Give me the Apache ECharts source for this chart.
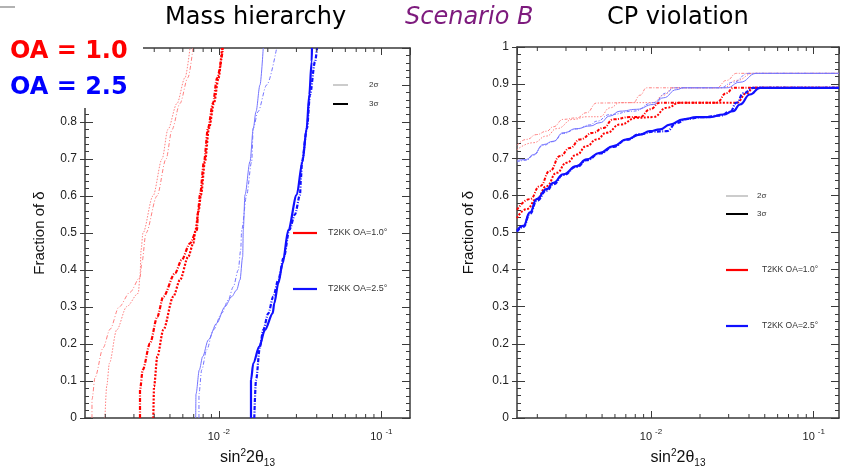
<!DOCTYPE html>
<html><head><meta charset="utf-8">
<script src="https://cdn.jsdelivr.net/npm/echarts@6/dist/echarts.min.js"></script>
<style>html,body{margin:0;padding:0;background:#fff}#c{width:841px;height:467px}</style>
</head><body><div id="c"></div>
<script>
// ---------- axis ranges / ticks ----------
const xMin = 0.0015, xMaxMH = 0.15, xMaxCP = 0.143;
const xMinorTicks = [0.002,0.003,0.004,0.005,0.006,0.007,0.008,0.009,0.02,0.03,0.04,0.05,0.06,0.07,0.08,0.09];

// ---------- Mass hierarchy panel: [sin^2 2theta13, fraction of delta] ----------
const mhRed2A = [[1.656e-3,0],[1.656e-3,0.05],[1.73e-3,0.11],[1.94e-3,0.19],[2.14e-3,0.24],[2.43e-3,0.30],[2.84e-3,0.34],[3.27e-3,0.38],[3.36e-3,0.42],[3.56e-3,0.5],[4.16e-3,0.6],[4.73e-3,0.7],[5.15e-3,0.78],[5.76e-3,0.85],[6.45e-3,0.92],[6.93e-3,1.0]];
const mhRed2B = [[1.99e-3,0],[2.04e-3,0.086],[2.12e-3,0.148],[2.35e-3,0.238],[2.71e-3,0.301],[3.19e-3,0.337],[3.27e-3,0.382],[3.32e-3,0.454],[3.41e-3,0.5],[3.93e-3,0.6],[4.47e-3,0.7],[4.86e-3,0.78],[5.52e-3,0.85],[6.19e-3,0.92],[6.64e-3,1.0]];
const mhRed3C = [[3.27e-3,0],[3.27e-3,0.076],[3.40e-3,0.13],[3.77e-3,0.202],[4.18e-3,0.274],[4.55e-3,0.328],[5.37e-3,0.391],[5.90e-3,0.427],[6.64e-3,0.472],[7.33e-3,0.508],[7.44e-3,0.558],[7.65e-3,0.603],[8.10e-3,0.693],[8.57e-3,0.783],[9.20e-3,0.851],[9.73e-3,0.918],[1.06e-2,1.0]];
const mhRed3D = [[3.95e-3,0],[3.99e-3,0.085],[4.18e-3,0.166],[4.55e-3,0.238],[5.24e-3,0.328],[5.76e-3,0.373],[6.48e-3,0.436],[6.96e-3,0.472],[7.18e-3,0.508],[7.49e-3,0.558],[7.76e-3,0.603],[8.21e-3,0.693],[8.69e-3,0.783],[9.33e-3,0.851],[9.94e-3,0.918],[1.045e-2,1.0]];
const mhBlue2E = [[7.20e-3,0],[7.23e-3,0.065],[7.58e-3,0.13],[7.95e-3,0.166],[8.61e-3,0.211],[9.69e-3,0.256],[1.090e-2,0.301],[1.199e-2,0.328],[1.287e-2,0.346],[1.348e-2,0.373],[1.401e-2,0.436],[1.413e-2,0.508],[1.447e-2,0.603],[1.554e-2,0.693],[1.628e-2,0.783],[1.692e-2,0.828],[1.790e-2,0.9],[1.875e-2,1.0]];
const mhBlue2F = [[7.54e-3,0],[7.54e-3,0.065],[7.84e-3,0.13],[8.41e-3,0.184],[9.24e-3,0.238],[1.040e-2,0.283],[1.142e-2,0.319],[1.227e-2,0.355],[1.316e-2,0.4],[1.362e-2,0.454],[1.381e-2,0.508],[1.483e-2,0.603],[1.591e-2,0.693],[1.628e-2,0.783],[1.740e-2,0.828],[1.969e-2,0.9],[2.268e-2,1.0]];
const mhBlue3G = [[1.576e-2,0],[1.576e-2,0.102],[1.628e-2,0.148],[1.772e-2,0.193],[1.921e-2,0.238],[2.143e-2,0.283],[2.192e-2,0.31],[2.319e-2,0.364],[2.469e-2,0.418],[2.674e-2,0.508],[3.012e-2,0.603],[3.269e-2,0.693],[3.469e-2,0.783],[3.599e-2,0.873],[3.724e-2,0.963],[3.740e-2,1.0]];
const mhBlue3H = [[1.651e-2,0],[1.692e-2,0.102],[1.790e-2,0.193],[1.875e-2,0.238],[2.014e-2,0.283],[2.162e-2,0.328],[2.319e-2,0.373],[2.515e-2,0.436],[2.712e-2,0.508],[2.939e-2,0.55],[3.155e-2,0.603],[3.200e-2,0.65],[3.246e-2,0.693],[3.484e-2,0.783],[3.635e-2,0.873],[3.904e-2,0.963],[4.016e-2,1.0]];

// ---------- CP violation panel ----------
const cpRed2A = [[1.5e-3,0.735],[1.72e-3,0.751],[1.981e-3,0.764],[2.282e-3,0.773],[2.507e-3,0.785],[2.889e-3,0.805],[3.489e-3,0.809],[4.02e-3,0.823],[4.632e-3,0.849],[7.78e-3,0.85],[8.551e-3,0.87],[9.397e-3,0.89],[2.53e-2,0.89],[2.915e-2,0.91],[3.357e-2,0.929],[0.143,0.929]];
const cpRed2B = [[1.5e-3,0.723],[1.89e-3,0.742],[2.282e-3,0.76],[2.629e-3,0.78],[3.328e-3,0.805],[4.02e-3,0.812],[4.855e-3,0.812],[5.593e-3,0.836],[6.443e-3,0.85],[1.033e-2,0.85],[1.19e-2,0.87],[1.37e-2,0.89],[2.781e-2,0.89],[3.357e-2,0.91],[4.252e-2,0.929],[0.143,0.929]];
const cpBlue2E = [[1.5e-3,0.694],[1.72e-3,0.697],[1.89e-3,0.71],[2.177e-3,0.737],[2.507e-3,0.746],[2.889e-3,0.769],[3.489e-3,0.78],[4.214e-3,0.787],[4.855e-3,0.796],[5.593e-3,0.814],[6.443e-3,0.827],[8.155e-3,0.832],[1.033e-2,0.845],[1.19e-2,0.863],[1.437e-2,0.885],[1.579e-2,0.89],[2.915e-2,0.89],[3.52e-2,0.905],[4.458e-2,0.929],[0.143,0.929]];
const cpBlue2F = [[1.5e-3,0.690],[1.72e-3,0.695],[1.89e-3,0.708],[2.177e-3,0.735],[2.507e-3,0.745],[2.889e-3,0.767],[3.489e-3,0.779],[4.214e-3,0.79],[4.632e-3,0.80],[5.593e-3,0.818],[7.78e-3,0.827],[1.033e-2,0.85],[1.247e-2,0.876],[1.37e-2,0.89],[2.653e-2,0.89],[3.202e-2,0.905],[3.962e-2,0.929],[0.143,0.929]];
const cpRed3C = [[1.5e-3,0.561],[1.803e-3,0.59],[2.077e-3,0.625],[2.392e-3,0.666],[2.756e-3,0.706],[3.175e-3,0.728],[3.658e-3,0.751],[4.418e-3,0.769],[5.089e-3,0.782],[5.863e-3,0.805],[7.421e-3,0.811],[8.551e-3,0.811],[9.851e-3,0.832],[1.135e-2,0.85],[2.53e-2,0.85],[2.915e-2,0.876],[3.202e-2,0.89],[0.143,0.89]];
const cpRed3D = [[1.5e-3,0.539],[1.72e-3,0.563],[1.981e-3,0.59],[2.282e-3,0.625],[2.629e-3,0.661],[3.029e-3,0.688],[3.489e-3,0.71],[4.02e-3,0.733],[4.632e-3,0.751],[5.335e-3,0.769],[6.443e-3,0.791],[8.155e-3,0.809],[1.033e-2,0.811],[1.247e-2,0.836],[1.506e-2,0.85],[3.357e-2,0.85],[3.869e-2,0.875],[4.252e-2,0.89],[0.143,0.89]];
const cpBlue3G = [[1.5e-3,0.505],[1.64e-3,0.518],[1.803e-3,0.554],[1.981e-3,0.59],[2.282e-3,0.617],[2.507e-3,0.634],[2.889e-3,0.657],[3.489e-3,0.679],[4.02e-3,0.697],[4.855e-3,0.715],[5.863e-3,0.733],[7.079e-3,0.751],[8.551e-3,0.764],[9.851e-3,0.773],[1.135e-2,0.778],[1.307e-2,0.791],[1.579e-2,0.805],[1.906e-2,0.811],[2.303e-2,0.811],[2.781e-2,0.818],[3.202e-2,0.827],[3.52e-2,0.845],[4.056e-2,0.872],[4.673e-2,0.89],[0.143,0.89]];
const cpBlue3H = [[1.5e-3,0.502],[1.64e-3,0.515],[1.803e-3,0.55],[1.981e-3,0.585],[2.282e-3,0.613],[2.507e-3,0.63],[2.889e-3,0.655],[3.489e-3,0.677],[4.02e-3,0.695],[4.855e-3,0.713],[5.863e-3,0.731],[7.079e-3,0.75],[8.551e-3,0.765],[1.033e-2,0.772],[1.247e-2,0.773],[1.437e-2,0.795],[1.655e-2,0.806],[2.096e-2,0.811],[2.653e-2,0.815],[3.056e-2,0.825],[3.357e-2,0.85],[3.69e-2,0.875],[4.252e-2,0.89],[0.143,0.89]];

// ---------- styles ----------
const RED = '#ff0000', RED_L = '#ff8080', BLUE = '#1010ff', BLUE_L = '#7474ff';
const AX = '#3a3a3a';
const FONT = '"Liberation Sans", Arial, sans-serif';

function line(data, xi, yi, color, width, type, sm) {
  return {type:'line', data, xAxisIndex:xi, yAxisIndex:yi, showSymbol:false, symbol:'none',
    smooth:sm, smoothMonotone:'x', lineStyle:{color, width, type}, silent:true, animation:false, z:3};
}
function tickSeries(xi, yi) {
  return {type:'custom', xAxisIndex:xi, yAxisIndex:yi, silent:true, clip:false, animation:false, z:5,
    data: xMinorTicks.map(v => [v, 0]),
    renderItem(params, api) {
      const v = api.value(0);
      const b = api.coord([v, 0]), t = api.coord([v, 1]);
      const L = 4;
      return {type:'group', children:[
        {type:'line', shape:{x1:b[0], y1:b[1], x2:b[0], y2:b[1]-L}, style:{stroke:AX, lineWidth:1}},
        {type:'line', shape:{x1:t[0], y1:t[1], x2:t[0], y2:t[1]+L}, style:{stroke:AX, lineWidth:1}}
      ]};
    }};
}
function powLabel(v) {
  const e = Math.log10(v), r = Math.round(e);
  if (Math.abs(e - r) > 1e-6) return '';
  return '{b|10}{s|' + r + '}';
}
const labelRich = {b:{fontSize:11, fontFamily:FONT, color:'#222'}, s:{fontSize:8, fontFamily:FONT, color:'#222', padding:[0,0,9,3]}};
const xName = '{t|sin}{sp|2}{t|2θ}{sb|13}';
const xNameStyle = {fontSize:16, fontFamily:FONT, color:'#111', rich:{t:{fontSize:16, fontFamily:FONT, color:'#111'}, sp:{fontSize:10, fontFamily:FONT, color:'#111', padding:[0,0,10,0]}, sb:{fontSize:10, fontFamily:FONT, color:'#111', padding:[10,0,0,0]}}};
const frame = {show:true, onZero:false, lineStyle:{color:AX, width:1.5}};

function xBottom(gi, max) {
  return {type:'log', gridIndex:gi, min:xMin, max, position:'bottom',
    axisLine:frame,
    axisTick:{show:true, inside:true, length:7, lineStyle:{color:AX}},
    axisLabel:{formatter:powLabel, rich:labelRich, margin:10, showMinLabel:false, showMaxLabel:false},
    splitLine:{show:false}, minorTick:{show:false},
    name:xName, nameLocation:'middle', nameGap:30, nameTextStyle:xNameStyle};
}
function xTop(gi, max) {
  return {type:'log', gridIndex:gi, min:xMin, max, position:'top',
    axisLine:frame,
    axisTick:{show:true, inside:true, length:7, lineStyle:{color:AX}},
    axisLabel:{show:false}, splitLine:{show:false}};
}
function yLeft(gi, gap) {
  return {type:'value', gridIndex:gi, min:0, max:1, interval:0.1, position:'left',
    axisLine:frame,
    axisTick:{show:true, inside:true, length:8, lineStyle:{color:AX}},
    minorTick:{show:true, splitNumber:5, length:4, lineStyle:{color:AX}},
    axisLabel:{fontSize:12, fontFamily:FONT, color:'#222', margin:8},
    splitLine:{show:false},
    name:'Fraction of δ', nameLocation:'middle', nameGap:gap,
    nameTextStyle:{fontSize:15, fontFamily:FONT, color:'#111'}};
}
function yLeftOut(gi) {
  return {type:'value', gridIndex:gi, min:0, max:1, interval:0.1, position:'left',
    axisLine:{show:false, onZero:false}, axisTick:{show:true, inside:false, length:5, lineStyle:{color:AX}},
    axisLabel:{show:false}, splitLine:{show:false}};
}
function yRight(gi) {
  return {type:'value', gridIndex:gi, min:0, max:1, interval:0.1, position:'right',
    axisLine:frame,
    axisTick:{show:true, inside:true, length:8, lineStyle:{color:AX}},
    minorTick:{show:true, splitNumber:5, length:4, lineStyle:{color:AX}},
    axisLabel:{show:false}, splitLine:{show:false}};
}

function legendLine(x1, x2, y, color, w) {
  return {type:'line', shape:{x1, y1:y, x2, y2:y}, style:{stroke:color, lineWidth:w}, z:50};
}
function legendText(x, y, text, size) {
  return {type:'text', x, y, style:{text, font:size + 'px ' + FONT, fill:'#333', verticalAlign:'middle', textVerticalAlign:'middle'}, z:50};
}

const option = {
  animation:false,
  backgroundColor:'#fff',
  grid:[
    {left:85, top:48, width:325, height:370, outerBoundsMode:'none', containLabel:false},
    {left:517, top:47, width:322, height:371, outerBoundsMode:'none', containLabel:false}
  ],
  xAxis:[xBottom(0, xMaxMH), xTop(0, xMaxMH), xBottom(1, xMaxCP), xTop(1, xMaxCP)],
  yAxis:[yLeft(0, 38), yRight(0), yLeftOut(0), yLeft(1, 41), yRight(1), yLeftOut(1)],
  series:[
    line(mhRed2A, 0, 0, RED_L, 1, [4,2,1,2], 0.3),
    line(mhRed2B, 0, 0, RED_L, 1, [1.5,1.5], 0.3),
    line(mhRed3C, 0, 0, RED, 2.2, [4,1.5,1,1.5], 0.3),
    line(mhRed3D, 0, 0, RED, 2.2, [2,1.5], 0.3),
    line(mhBlue2E, 0, 0, BLUE_L, 1, 'solid', 0.3),
    line(mhBlue2F, 0, 0, BLUE_L, 1, [4,2,1,2], 0.3),
    line(mhBlue3G, 0, 0, BLUE, 2.2, 'solid', 0.3),
    line(mhBlue3H, 0, 0, BLUE, 2.2, [4,1.5,1,1.5], 0.3),
    tickSeries(0, 0),
    line(cpRed2A, 2, 3, RED_L, 1, [3,1.5,1,1.5], 0.5),
    line(cpRed2B, 2, 3, RED_L, 1, [1.5,1.5], 0.5),
    line(cpBlue2E, 2, 3, BLUE_L, 1, 'solid', 0.5),
    line(cpBlue2F, 2, 3, BLUE_L, 1, [3,1.5,1,1.5], 0.5),
    line(cpRed3C, 2, 3, RED, 2, [3,1.5,1,1.5], 0.5),
    line(cpRed3D, 2, 3, RED, 2, [2,1.5], 0.5),
    line(cpBlue3G, 2, 3, BLUE, 2.2, 'solid', 0.5),
    line(cpBlue3H, 2, 3, BLUE, 2.2, [4,1.5,1,1.5], 0.5),
    tickSeries(2, 3)
  ],
  graphic:[
    // titles
    {type:'text', x:165, y:6, z:60, style:{text:'Mass hierarchy', font:'24px "DejaVu Sans", sans-serif', fill:'#000'}},
    {type:'text', x:405, y:6, z:60, style:{text:'Scenario B', font:'italic 24px "DejaVu Sans", sans-serif', fill:'#7d1a7d'}},
    {type:'text', x:607, y:6, z:60, style:{text:'CP violation', font:'24px "DejaVu Sans", sans-serif', fill:'#000'}},
    // OA overlay
    {type:'line', shape:{x1:0, y1:7, x2:15, y2:7}, style:{stroke:'#999', lineWidth:1.5}, z:60},
    {type:'rect', shape:{x:0, y:30, width:143, height:78}, style:{fill:'#fff'}, z:60},
    {type:'text', x:10, y:40, z:61, style:{text:'OA = 1.0', font:'bold 24px "DejaVu Sans", sans-serif', fill:'#ff0000'}},
    {type:'text', x:10, y:76, z:61, style:{text:'OA = 2.5', font:'bold 24px "DejaVu Sans", sans-serif', fill:'#0000ff'}},
    // left legend
    legendLine(333, 348, 85, '#999', 1), legendText(369, 85, '2σ', 8),
    legendLine(333, 348, 104, '#000', 2), legendText(369, 104, '3σ', 8),
    legendLine(293, 317, 233, RED, 2.2), legendText(328, 233, 'T2KK OA=1.0°', 9),
    legendLine(293, 317, 289, BLUE, 2.2), legendText(328, 289, 'T2KK OA=2.5°', 9),
    // right legend
    legendLine(726, 748, 196, '#999', 1), legendText(757, 196, '2σ', 8),
    legendLine(726, 748, 214, '#000', 2), legendText(757, 214, '3σ', 8),
    legendLine(726, 748, 270, RED, 2.2), legendText(762, 270, 'T2KK OA=1.0°', 8.5),
    legendLine(726, 748, 326, BLUE, 2.2), legendText(762, 326, 'T2KK OA=2.5°', 8.5)
  ]
};
const chart = echarts.init(document.getElementById('c'), null, {renderer:'canvas'});
chart.setOption(option);
</script></body></html>
